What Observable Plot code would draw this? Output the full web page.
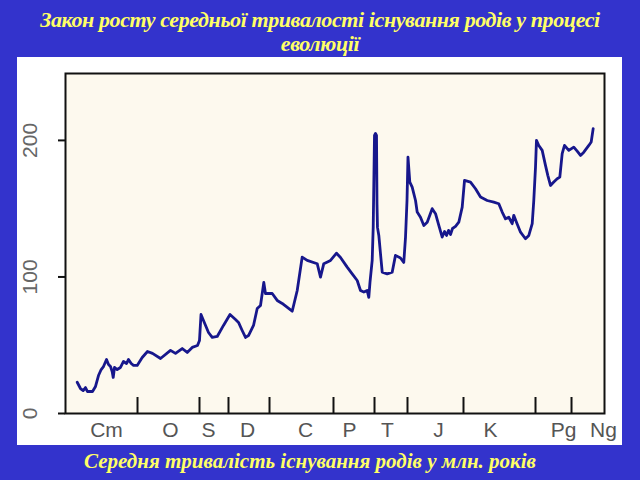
<!DOCTYPE html>
<html>
<head>
<meta charset="utf-8">
<script src="https://cdn.jsdelivr.net/npm/d3@7"></script>
<script src="https://cdn.jsdelivr.net/npm/@observablehq/plot@0.6"></script>
<style>
  html, body { margin: 0; padding: 0; }
  body { width: 640px; height: 480px; background: #3333cc; position: relative; overflow: hidden; }
  #title { position: absolute; left: 0; top: 8px; width: 640px; text-align: center;
    font-family: "Liberation Serif", serif; font-weight: bold; font-style: italic;
    font-size: 22px; line-height: 24px; letter-spacing: -0.4px; color: #ffff66; }
  #panel { position: absolute; left: 17px; top: 57px; width: 605px; height: 388px; background: #ffffff; }
  #caption { position: absolute; left: -10px; top: 449px; width: 640px; text-align: center;
    font-family: "Liberation Serif", serif; font-weight: bold; font-style: italic;
    font-size: 21px; line-height: 24px; color: #ffff66; }
</style>
</head>
<body>
<div id="title">Закон росту середньої тривалості існування родів у процесі<br>еволюції</div>
<div id="panel"></div>
<div id="caption">Середня тривалість існування родів у млн. років</div>
<script>
// relative geological time position (0..100) and mean genus duration (Myr)
const timePos = [2.17,2.78,3.28,3.71,4.08,5.01,5.57,6.12,6.62,7.05,7.61,7.98,8.35,8.66,8.85,9.09,9.59,10.2,10.76,11.32,11.69,12.19,12.62,13.3,14.23,15.21,16.14,17.63,19.48,20.41,21.65,22.58,23.51,24.49,24.86,25.14,25.6,26.53,27.22,28.15,29.31,30.52,31.54,32.1,32.78,33.4,33.95,34.88,35.57,36.18,36.79,37.1,38.35,39.28,40.2,42.06,42.99,43.91,44.84,46.7,47.31,47.92,49.17,50.28,51.02,52.26,53.19,54.12,54.73,55.35,55.97,56.27,56.49,56.9,57.09,57.33,57.51,57.7,57.79,57.88,58.13,58.44,58.76,59.68,60.61,61.22,62.15,62.76,63.08,63.36,63.54,63.88,64.32,64.94,65.25,65.86,66.48,67.11,68.03,68.65,69.26,69.89,70.32,70.69,71.06,71.43,71.8,72.36,72.97,73.6,74.03,75.14,76.07,77.0,78.24,79.46,80.39,81.02,81.63,82.24,82.87,83.17,83.67,84.42,85.34,85.96,86.59,86.88,87.2,87.38,87.81,88.44,89.05,89.48,89.98,90.59,91.22,91.71,92.15,92.58,93.38,94.3,94.93,95.55,96.16,97.09,97.53,97.9];
const duration = [22.9,18.3,16.8,19.0,16.1,16.1,19.8,27.8,32.2,34.4,39.6,35.9,34.4,30.8,26.4,33.7,32.2,33.7,38.1,36.6,39.6,36.6,35.2,35.2,41.0,45.4,44.0,40.3,46.2,44.0,47.6,44.7,48.4,49.8,53.5,72.5,68.1,59.3,55.7,56.4,64.5,72.5,68.9,66.7,60.8,55.7,57.1,64.5,76.9,79.1,96.0,87.9,87.9,82.8,80.6,74.9,90.1,114.5,112.1,109.7,99.9,109.7,112.1,117.4,114.3,107.2,102.3,97.4,90.1,88.9,90.1,85.0,96.0,112.1,136.5,203.7,205.1,203.7,153.8,136.3,130.4,117.0,103.5,102.3,103.5,115.8,113.9,110.6,128.9,156.0,187.8,169.5,165.8,156.0,147.5,143.8,137.7,140.1,150.0,146.3,137.7,129.2,133.3,130.4,134.1,131.1,135.5,137.0,140.1,151.1,170.7,169.5,164.6,158.5,156.0,154.8,153.6,147.5,142.6,143.8,139.0,145.1,140.1,132.8,128.0,130.4,139.0,156.0,180.4,200.0,196.3,192.7,181.7,174.4,167.0,169.5,171.9,173.1,190.3,196.3,192.7,195.1,192.2,189.0,191.4,196.3,198.8,208.6];

const periodBounds = [13.36,24.86,30.24,37.85,49.72,57.33,63.45,73.84,87.2,93.88];
const periodNames = ["Cm","O","S","D","C","P","T","J","K","Pg","Ng"];
const periodLabelPos = [7.61,19.48,26.53,33.77,44.53,52.69,59.74,69.2,78.85,92.39,99.81];
const yTicks = [0,100,200];

const series = timePos.map((t, i) => ({t, d: duration[i]}));
const labels = periodNames.map((name, i) => ({name, pos: periodLabelPos[i]}));

const chart = Plot.plot({
  width: 605,
  height: 388,
  marginLeft: 48,
  marginRight: 18,
  marginTop: 16,
  marginBottom: 32,
  style: {background: "#ffffff", overflow: "visible"},
  x: {domain: [0, 100], axis: null},
  y: {domain: [0, 249], axis: null},
  marks: [
    Plot.frame({fill: "#fdf9ee", stroke: null}),
    Plot.line(series, {x: "t", y: "d", stroke: "#17178c", strokeWidth: 2.8, strokeLinejoin: "round"}),
    Plot.ruleX(periodBounds, {stroke: "#111", strokeWidth: 2, insetTop: 324}),
    Plot.frame({stroke: "#111", strokeWidth: 2}),
    Plot.axisY({ticks: yTicks, label: null, tickSize: 7, tickPadding: 22, tickRotate: -90, stroke: "#111", strokeWidth: 2,
      fontSize: 21, fill: "#666", fontFamily: "Liberation Sans, Arial, sans-serif"}),
    Plot.text(labels, {x: "pos", text: "name", frameAnchor: "bottom", dy: 17, fontSize: 21, fill: "#555",
      fontFamily: "Liberation Sans, Arial, sans-serif", lineAnchor: "middle", textAnchor: "middle"})
  ]
});
document.getElementById("panel").appendChild(chart);
</script>
</body>
</html>
